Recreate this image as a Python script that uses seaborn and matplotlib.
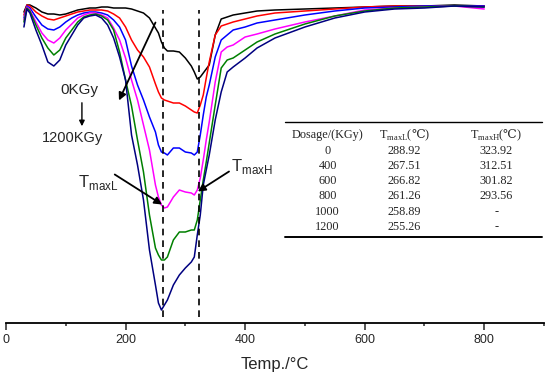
import pandas as pd
import seaborn as sns
import matplotlib.pyplot as plt

# temperature grid (deg C) and DTG traces (arbitrary units)
temps = [30, 35, 40, 50, 60, 70, 80, 90, 100, 110, 120, 130, 140, 150, 160, 170, 180,
         190, 200, 210, 220, 230, 240, 250, 255, 260, 265, 270, 280, 290, 300, 310, 315,
         320, 325, 330, 335, 340, 350, 360, 370, 380, 400, 420, 450, 500, 550, 600, 650,
         700, 750, 800]

dtg_0 = [-12, -5, -5, -8, -12, -14, -14, -15, -14, -12, -10, -9, -8, -8, -7, -7, -8,
         -8, -8, -9, -11, -13, -18, -28, -33, -42, -48, -51, -51, -52, -58, -66, -72,
         -79, -77, -73, -69, -65, -35, -19, -17, -15, -13, -11, -10, -9, -8, -7, -6,
         -6, -5, -6]
dtg_400 = [-15, -5, -6, -12, -16, -19, -20, -18, -16, -14, -12, -11, -10, -10, -10, -11, -14,
           -18, -27, -40, -50, -57, -67, -84, -92, -98, -100, -101, -103, -103, -106, -110, -112,
           -113, -105, -95, -78, -62, -35, -26, -24, -22, -19, -16, -13, -11, -9, -7, -6,
           -6, -6, -6]
dtg_600 = [-18, -6, -8, -17, -25, -29, -30, -27, -22, -18, -15, -13, -12, -12, -13, -15, -20,
           -27, -40, -66, -85, -100, -117, -132, -145, -152, -153, -155, -148, -148, -152, -153, -155,
           -152, -135, -115, -97, -85, -57, -40, -35, -30, -27, -23, -20, -15, -11, -8, -7,
           -6, -6, -6]
dtg_800 = [-20, -7, -10, -22, -33, -40, -43, -38, -30, -24, -18, -15, -13, -13, -15, -18, -28,
           -40, -58, -80, -100, -125, -150, -185, -197, -205, -208, -207, -197, -190, -192, -193, -195,
           -190, -178, -160, -140, -122, -82, -52, -47, -45, -37, -34, -29, -22, -16, -10, -8,
           -7, -6, -9]
dtg_1000 = [-22, -8, -11, -25, -38, -48, -55, -50, -38, -30, -22, -17, -15, -14, -16, -20, -30,
            -52, -80, -106, -140, -172, -215, -248, -255, -260, -260, -257, -240, -232, -232, -230, -230,
            -220, -200, -180, -162, -143, -105, -68, -60, -58, -50, -42, -34, -24, -16, -11, -8,
            -7, -6, -7]
dtg_1200 = [-27, -9, -13, -30, -45, -62, -66, -60, -45, -35, -25, -18, -16, -15, -18, -25, -38,
            -57, -80, -135, -165, -200, -250, -285, -303, -310, -305, -300, -285, -275, -268, -262, -257,
            -235, -215, -185, -170, -155, -120, -92, -72, -67, -58, -48, -38, -27, -18, -12, -9,
            -8, -6, -7]

dosages = ['0', '400', '600', '800', '1000', '1200']
colors = ['black', '#ff0000', '#0000ff', '#ff00ff', '#008000', '#000080']

# peak table
tab_dose = ['0', '400', '600', '800', '1000', '1200']
tab_tmaxl = ['288.92', '267.51', '266.82', '261.26', '258.89', '255.26']
tab_tmaxh = ['323.92', '312.51', '301.82', '293.56', '-', '-']

frames = []
for d, vals in zip(dosages, [dtg_0, dtg_400, dtg_600, dtg_800, dtg_1000, dtg_1200]):
    frames.append(pd.DataFrame({'Temp': temps, 'DTG': vals, 'Dosage': d}))
df = pd.concat(frames)

sns.set_style("white")
plt.rcParams['font.family'] = ['Liberation Sans', 'DejaVu Sans']
# the degree-celsius sign only exists in DejaVu, used through mathtext
plt.rcParams['mathtext.fontset'] = 'custom'
plt.rcParams['mathtext.rm'] = 'DejaVu Serif'

fig = plt.figure(figsize=(5.5, 3.77), dpi=100)
ax = fig.add_axes([6 / 550, 54 / 377, 538 / 550, 323 / 377])

sns.lineplot(data=df, x='Temp', y='DTG', hue='Dosage', palette=colors,
             estimator=None, linewidth=1.1, legend=False, ax=ax)

# dashed markers at the two peak temperatures
ax.vlines([262, 323], -317, -10, colors='black', linestyles=(0, (4, 3)), linewidth=1.2)

ax.set_xlim(0, 900)
ax.set_ylim(-323, 0)
ax.set_xticks([0, 200, 400, 600, 800])
ax.set_xticks([100, 300, 500, 700, 900], minor=True)
ax.tick_params(axis='x', which='major', direction='out', length=5, width=1.1,
               labelsize=9, pad=3, bottom=True)
ax.tick_params(axis='x', which='minor', direction='out', length=2.5, width=1.1, bottom=True)
ax.set_yticks([])
for s in ['left', 'right', 'top']:
    ax.spines[s].set_visible(False)
ax.spines['bottom'].set_linewidth(1.3)
ax.spines['bottom'].set_color('black')
ax.set_xlabel('Temp./°C', fontsize=12, labelpad=8)
ax.set_ylabel('')

# dose arrow + labels
arrow = dict(arrowstyle='-|>', color='black', lw=1.3, mutation_scale=11)
ax.annotate('', xy=(187, -103), xytext=(252, -20), arrowprops=arrow)
ax.text(123, -90, '0KGy', fontsize=11, ha='center', va='center')
ax.annotate('', xy=(127, -129), xytext=(127, -100),
            arrowprops=dict(arrowstyle='-|>', color='black', lw=1.0, mutation_scale=8))
ax.text(112, -138, '1200KGy', fontsize=10.5, ha='center', va='center')

ax.text(120, -182, 'T$_{\\mathregular{maxL}}$', fontsize=12, ha='left', va='center')
ax.annotate('', xy=(265, -206), xytext=(178, -173), arrowprops=arrow)
ax.text(377, -167, 'T$_{\\mathregular{maxH}}$', fontsize=12, ha='left', va='center')
ax.annotate('', xy=(317, -193), xytext=(377, -170), arrowprops=arrow)

# table
serif = ['Liberation Serif', 'DejaVu Serif']
col_x = [538, 666, 820]
row_y = [-135, -151, -166, -181, -196, -212, -227]
headers = ['Dosage/(KGy)', 'T$_{\\mathregular{maxL}}$($\\mathrm{℃}$)',
           'T$_{\\mathregular{maxH}}$($\\mathrm{℃}$)']
for cx, h in zip(col_x, headers):
    ax.text(cx, row_y[0], h, family=serif, fontsize=8.8, ha='center', va='center')
for i in range(len(tab_dose)):
    for cx, v in zip(col_x, [tab_dose[i], tab_tmaxl[i], tab_tmaxh[i]]):
        ax.text(cx, row_y[i + 1], v, family=serif, fontsize=8.8, ha='center', va='center')
ax.plot([467, 897], [-122, -122], color='black', lw=1.0)
ax.plot([467, 897], [-237, -237], color='black', lw=1.4)

plt.savefig('out.png', dpi=100)
